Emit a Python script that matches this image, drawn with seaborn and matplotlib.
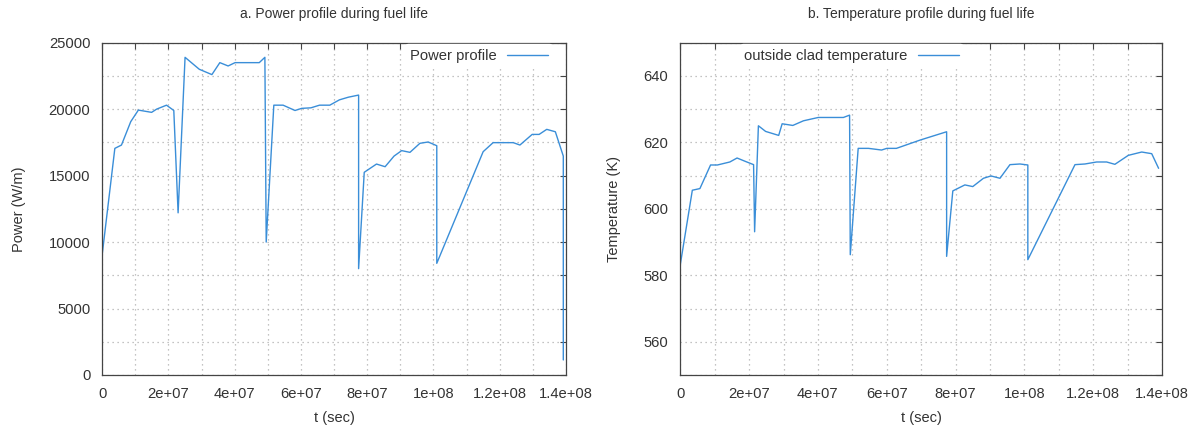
import numpy as np
import pandas as pd
import matplotlib
matplotlib.use("Agg")
import matplotlib.pyplot as plt
import seaborn as sns
from matplotlib.ticker import MultipleLocator, FuncFormatter

# ---------------- data ----------------
power_t = [0.0, 0.38, 0.58, 0.86, 1.09, 1.49, 1.64, 1.94, 2.16, 2.29, 2.50, 2.93, 3.31, 3.55,
           3.80, 4.01, 4.74, 4.91, 4.95, 5.18, 5.46, 5.82, 6.02, 6.30, 6.56, 6.87, 7.16, 7.43,
           7.74, 7.74, 7.91, 8.28, 8.54, 8.81, 9.04, 9.29, 9.59, 9.84, 10.10, 10.10, 11.50,
           11.80, 12.41, 12.61, 12.98, 13.19, 13.42, 13.68, 13.92, 13.92]
power_w = [9100, 17050, 17300, 19060, 19930, 19760, 20000, 20300, 19900, 12200, 23900, 23000,
           22600, 23500, 23250, 23500, 23500, 23900, 10000, 20300, 20300, 19900, 20060, 20100,
           20300, 20300, 20700, 20900, 21060, 8000, 15250, 15870, 15670, 16470, 16880, 16750,
           17430, 17530, 17250, 8400, 16800, 17480, 17480, 17300, 18100, 18100, 18480, 18300,
           16470, 1130]

temp_t = [0.0, 0.35, 0.57, 0.88, 1.08, 1.44, 1.65, 1.91, 2.13, 2.16, 2.27, 2.48, 2.86, 2.96,
          3.27, 3.58, 4.01, 4.74, 4.92, 4.94, 5.17, 5.47, 5.85, 6.00, 6.28, 6.97, 7.74, 7.74,
          7.92, 8.27, 8.50, 8.81, 9.03, 9.29, 9.58, 9.87, 10.10, 10.10, 11.47, 11.76, 12.10,
          12.39, 12.63, 13.02, 13.41, 13.70, 13.90]
temp_k = [583.2, 605.6, 606.1, 613.2, 613.2, 614.1, 615.3, 614.2, 613.3, 593.1, 625.0, 623.3,
          622.1, 625.6, 625.1, 626.5, 627.5, 627.5, 628.2, 586.2, 618.2, 618.2, 617.7, 618.2,
          618.2, 620.7, 623.2, 585.7, 605.4, 607.2, 606.7, 609.2, 609.9, 609.2, 613.3, 613.5,
          613.2, 584.7, 613.3, 613.5, 614.1, 614.1, 613.4, 616.1, 617.1, 616.6, 612.2]

titles = ["a. Power profile during fuel life", "b. Temperature profile during fuel life"]
ylabels = ["Power (W/m)", "Temperature (K)"]
series_names = ["Power profile", "outside clad temperature"]
xlabel = "t (sec)"

# ---------------- style ----------------
sns.set_theme(style="white")
plt.rcParams["font.family"] = ["Liberation Sans", "DejaVu Sans"]

LINE = "#3a8ed8"
TXT = "#333333"
GRID = "#b0b0b0"

fig = plt.figure(figsize=(11.96, 4.34), dpi=100)
ax1 = fig.add_axes([0.0855, 0.136, 0.3877, 0.7656])
ax2 = fig.add_axes([0.5688, 0.136, 0.4028, 0.7656])

df_p = pd.DataFrame({"t": np.array(power_t) * 1e7, "v": power_w})
df_t = pd.DataFrame({"t": np.array(temp_t) * 1e7, "v": temp_k})

sns.lineplot(data=df_p, x="t", y="v", ax=ax1, estimator=None, sort=False,
             color=LINE, linewidth=1.0, label=series_names[0])
sns.lineplot(data=df_t, x="t", y="v", ax=ax2, estimator=None, sort=False,
             color=LINE, linewidth=1.0, label=series_names[1])


def xfmt(v, pos):
    i = int(round(v / 1e7))
    if i % 2:
        return ""
    if i == 0:
        return "0"
    e = int(np.floor(np.log10(v)))
    m = v / 10 ** e
    return "%se+%02d" % ("%g" % m, e)


for ax, yl, title, ylim, ystep, ylab_every, legx in [
        (ax1, ylabels[0], titles[0], (0, 25000), 2500, 5000, 0.9707),
        (ax2, ylabels[1], titles[1], (550, 650), 10, 20, 0.5877)]:
    ax.set_xlim(0, 1.4e8)
    ax.set_ylim(*ylim)
    ax.xaxis.set_major_locator(MultipleLocator(1e7))
    ax.xaxis.set_major_formatter(FuncFormatter(xfmt))
    ax.yaxis.set_major_locator(MultipleLocator(ystep))
    ax.yaxis.set_major_formatter(FuncFormatter(
        lambda v, p, le=ylab_every: ("%d" % round(v)) if abs(v / le - round(v / le)) < 1e-6 else ""))
    ax.tick_params(direction="in", length=4, width=0.8, top=True, right=True,
                   labelsize=10.6, colors="#444444", labelcolor=TXT, pad=8.5)
    ax.grid(True, linestyle=(0, (1, 3)), color=GRID, linewidth=0.9)
    for s in ax.spines.values():
        s.set_color("#444444")
        s.set_linewidth(0.9)
    ax.set_xlabel(xlabel, fontsize=10.5, color=TXT, labelpad=7.5)
    ax.set_ylabel(yl, fontsize=10.5, color=TXT, labelpad=16)
    ax.set_title(title, fontsize=10, color=TXT, pad=18)
    leg = ax.legend(loc="upper right", bbox_to_anchor=(legx, 0.995), markerfirst=False,
                    frameon=True, fontsize=10.6, handlelength=2.8, borderaxespad=0.0,
                    borderpad=0.3, handletextpad=0.7)
    leg.get_frame().set_edgecolor("white")
    leg.get_frame().set_facecolor("white")
    leg.get_frame().set_alpha(1.0)
    for t in leg.get_texts():
        t.set_color(TXT)

fig.savefig("out.png", dpi=100, facecolor="white")
